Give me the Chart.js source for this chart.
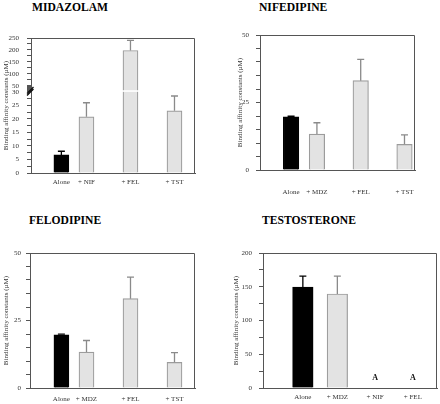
<!DOCTYPE html>
<html>
<head>
<meta charset="utf-8">
<script src="https://cdn.jsdelivr.net/npm/chart.js@4.4.0/dist/chart.umd.min.js"></script>
<style>
  body { margin: 0; background: #fff; width: 440px; height: 404px; position: relative; overflow: hidden; }
  .panel { position: absolute; }
  .ttl { position: absolute; font: bold 11.6px "Liberation Serif", serif; color: #000; line-height: 1; white-space: nowrap; }
</style>
</head>
<body>
<div class="ttl" style="left:32px;top:2px">MIDAZOLAM</div>
<div class="ttl" style="left:259px;top:2px">NIFEDIPINE</div>
<div class="ttl" style="left:29px;top:215px">FELODIPINE</div>
<div class="ttl" style="left:262px;top:215px">TESTOSTERONE</div>

<div class="panel" style="left:0;top:25px;width:200px;height:170px"><canvas id="mdzChart"></canvas></div>
<div class="panel" style="left:220px;top:20px;width:220px;height:180px"><canvas id="nifChart"></canvas></div>
<div class="panel" style="left:0;top:238px;width:200px;height:166px"><canvas id="felChart"></canvas></div>
<div class="panel" style="left:220px;top:238px;width:220px;height:166px"><canvas id="tstChart"></canvas></div>

<script>
// values (µM), error = upper SD whisker
const mdzLabels = ['Alone', '+ NIF', '+ FEL', '+ TST'];
const mdzValues = [6.7, 20.8, 198, 23.0];
const mdzErrors = [1.35, 5.2, 42, 5.5];

const nifLabels = ['Alone', '+ MDZ', '+ FEL', '+ TST'];
const nifValues = [19.7, 13.3, 33.1, 9.5];
const nifErrors = [0.2, 4.2, 7.9, 3.5];

const felLabels = ['Alone', '+ MDZ', '+ FEL', '+ TST'];
const felValues = [19.7, 13.3, 33.1, 9.5];
const felErrors = [0.25, 4.3, 8.0, 3.6];

const tstLabels = ['Alone', '+ MDZ', '+ NIF', '+ FEL'];
const tstValues = [149.6, 139.3, null, null];
const tstErrors = [16, 26.5, null, null];
const tstNotes = ['', '', 'A', 'A'];

// y tick labels
const mdzTickLabels = [0, 5, 10, 15, 20, 25, 30, 50, 100, 150, 200, 250];
const nifTickLabels = [0, 25, 50];
const felTickLabels = [0, 25, 50];
const tstTickLabels = [0, 50, 100, 150, 200];

const yTitle = 'Binding affinity constants (µM)';
const serif = 'Liberation Serif';

// broken y axis for midazolam: 0-30 on the lower part, 50-250 compressed above
const LOW_TOP = 0.6005, HIGH_BOTTOM = 0.645;
function brokenDecimal(v) {
  if (v <= 30) return v / 30 * LOW_TOP;
  if (v <= 50) return LOW_TOP + (v - 30) / 20 * (HIGH_BOTTOM - LOW_TOP);
  return HIGH_BOTTOM + (v - 50) / 200 * (1 - HIGH_BOTTOM);
}
class BrokenScale extends Chart.LinearScale {
  static id = 'broken';
  getPixelForValue(value) {
    if (value === null || value === undefined) return NaN;
    return this.getPixelForDecimal(brokenDecimal(value));
  }
  getValueForPixel(pixel) {
    const d = this.getDecimalForPixel(pixel);
    if (d <= LOW_TOP) return d / LOW_TOP * 30;
    if (d <= HIGH_BOTTOM) return 30 + (d - LOW_TOP) / (HIGH_BOTTOM - LOW_TOP) * 20;
    return 50 + (d - HIGH_BOTTOM) / (1 - HIGH_BOTTOM) * 200;
  }
}
Chart.register(BrokenScale);

function minorTicks(labels, step) {
  const out = [];
  for (let i = 0; i < labels.length - 1; i++) {
    const a = labels[i], b = labels[i + 1];
    const s = (b - a) > 25 ? step.high : step.low;
    for (let v = a; v < b - 1e-9; v += s) out.push(v);
  }
  out.push(labels[labels.length - 1]);
  return out;
}

const errorBars = {
  id: 'errorBars',
  afterDatasetsDraw(chart, args, o) {
    const { ctx } = chart;
    const meta = chart.getDatasetMeta(0);
    const ys = chart.scales.y;
    ctx.save();
    o.values.forEach((v, i) => {
      const e = o.errors[i];
      if (v == null || e == null) return;
      const x = meta.data[i].x;
      const y0 = ys.getPixelForValue(v);
      const y1 = ys.getPixelForValue(v + e);
      ctx.strokeStyle = i === 0 ? '#000' : '#8a8a8a';
      ctx.lineWidth = 1.3;
      ctx.beginPath();
      ctx.moveTo(x, y0);
      ctx.lineTo(x, y1);
      ctx.moveTo(x - 3.5, y1);
      ctx.lineTo(x + 3.5, y1);
      ctx.stroke();
    });
    ctx.restore();
  }
};

const extras = {
  id: 'extras',
  afterDraw(chart, args, o) {
    const { ctx, chartArea: a } = chart;
    ctx.save();
    ctx.strokeStyle = '#555';
    ctx.lineWidth = 1;
    ctx.beginPath();
    ctx.moveTo(a.left, a.top + 0.5);
    ctx.lineTo(a.right - 0.5, a.top + 0.5);
    ctx.lineTo(a.right - 0.5, a.bottom);
    ctx.stroke();
    if (o.breakAt) {
      const y = chart.scales.y.getPixelForValue(o.breakAt);
      ctx.fillStyle = '#fff';
      ctx.fillRect(a.left + 2, y - 0.8, a.width - 4, 1.6);
      ctx.strokeStyle = '#111';
      ctx.lineWidth = 1.3;
      ctx.beginPath();
      ctx.moveTo(a.left - 4, y + 2.5); ctx.lineTo(a.left + 2.5, y - 4);
      ctx.moveTo(a.left - 4, y + 4.5); ctx.lineTo(a.left + 2.5, y - 2);
      ctx.stroke();
    }
    if (o.notes) {
      ctx.fillStyle = '#111';
      ctx.font = 'bold 8px "' + serif + '"';
      ctx.textAlign = 'center';
      ctx.textBaseline = 'middle';
      o.notes.forEach((t, i) => {
        if (!t) return;
        ctx.fillText(t, chart.scales.x.getPixelForValue(o.slots[i]), a.bottom - 10);
      });
    }
    ctx.restore();
  }
};

function makePanel(id, o) {
  return new Chart(document.getElementById(id), {
    type: 'bar',
    data: {
      datasets: [{
        data: o.slots.map((s, i) => ({ x: s, y: o.values[i] })),
        backgroundColor: o.values.map((v, i) => i === 0 ? '#000' : '#e3e3e3'),
        borderColor: o.values.map((v, i) => i === 0 ? '#000' : '#9c9c9c'),
        borderWidth: 1.2,
        barThickness: o.barW
      }]
    },
    options: {
      responsive: true,
      maintainAspectRatio: false,
      animation: false,
      events: [],
      layout: { padding: { top: o.padTop, right: o.padRight, left: 0, bottom: 0 } },
      plugins: {
        legend: { display: false },
        tooltip: { enabled: false },
        errorBars: { values: o.values, errors: o.errors },
        extras: { breakAt: o.breakAt, notes: o.notes, slots: o.slots }
      },
      scales: {
        x: {
          type: 'linear',
          min: o.xMin,
          max: o.xMax,
          offset: false,
          afterBuildTicks: s => { s.ticks = o.slots.map(v => ({ value: v })); },
          afterFit: s => { s.height = o.xH; },
          border: { color: '#555', width: 1 },
          grid: { display: true, drawOnChartArea: false, drawTicks: false, offset: false },
          ticks: {
            autoSkip: false, maxRotation: 0, padding: o.xPad,
            font: { family: serif, size: 7 }, color: '#333',
            callback: (v, i) => o.labels[i]
          }
        },
        y: {
          type: o.broken ? 'broken' : 'linear',
          min: 0,
          max: o.yMax,
          afterBuildTicks: s => { s.ticks = o.yTicks.map(v => ({ value: v })); },
          afterFit: s => { s.width = o.yW; },
          border: { color: '#555', width: 1 },
          grid: { drawOnChartArea: false, tickLength: 4, tickColor: '#555' },
          ticks: {
            autoSkip: false,
            padding: o.yPad,
            font: { family: serif, size: 7 }, color: '#333',
            callback: v => o.tickLabels.includes(v) ? String(v) : ''
          },
          title: {
            display: true, text: yTitle, color: '#333',
            font: { family: serif, size: 7 },
            padding: { top: o.titlePad, bottom: 0 }
          }
        }
      }
    },
    plugins: [errorBars, extras]
  });
}

makePanel('mdzChart', {
  labels: mdzLabels, values: mdzValues, errors: mdzErrors,
  slots: [0.43, 1, 2, 3], xMin: -0.26, xMax: 3.466, barW: 15,
  broken: true, yMax: 250, breakAt: 33,
  tickLabels: mdzTickLabels, yTicks: minorTicks(mdzTickLabels, { low: 2.5, high: 25 }),
  yW: 31, yPad: 8, titlePad: 2, padTop: 13, padRight: 5, xH: 22, xPad: 5
});

makePanel('nifChart', {
  labels: nifLabels, values: nifValues, errors: nifErrors,
  slots: [0.41, 1, 2, 3], xMin: -0.30, xMax: 3.24, barW: 15.5,
  yMax: 50,
  tickLabels: nifTickLabels, yTicks: minorTicks(nifTickLabels, { low: 5, high: 5 }),
  yW: 40, yPad: 7, titlePad: 16, padTop: 15, padRight: 25, xH: 30, xPad: 18
});

makePanel('felChart', {
  labels: felLabels, values: felValues, errors: felErrors,
  slots: [0.43, 1, 2, 3], xMin: -0.284, xMax: 3.466, barW: 15,
  yMax: 50,
  tickLabels: felTickLabels, yTicks: minorTicks(felTickLabels, { low: 5, high: 5 }),
  yW: 30, yPad: 5, titlePad: 2, padTop: 15, padRight: 5, xH: 16, xPad: 7
});

makePanel('tstChart', {
  labels: tstLabels, values: tstValues, errors: tstErrors, notes: tstNotes,
  slots: [0.086, 1, 2, 3], xMin: -0.97, xMax: 3.64, barW: 20.5,
  yMax: 200,
  tickLabels: tstTickLabels, yTicks: minorTicks(tstTickLabels, { low: 25, high: 25 }),
  yW: 43, yPad: 7, titlePad: 12, padTop: 15, padRight: 3, xH: 16, xPad: 5
});
</script>
</body>
</html>
